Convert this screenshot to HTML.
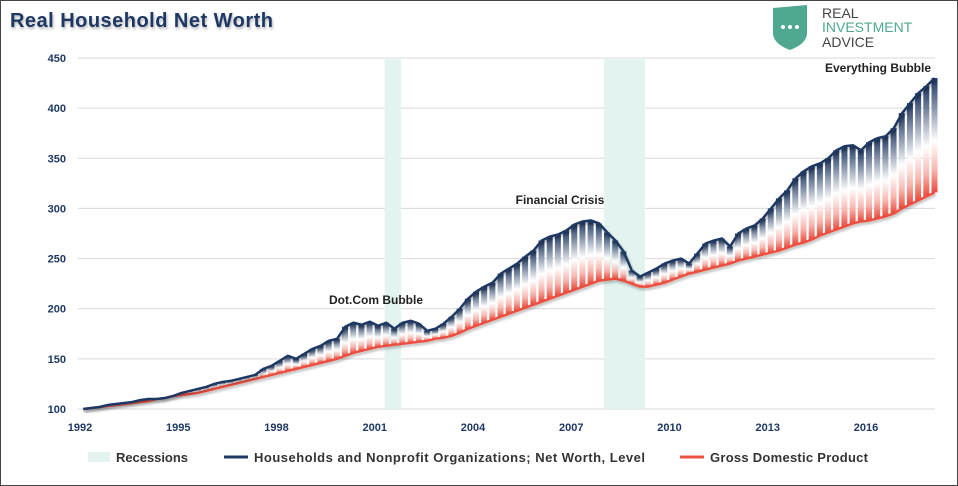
<!DOCTYPE html>
<html><head><meta charset="utf-8"><style>
body{margin:0;background:#fff;}
#wrap{position:relative;width:958px;height:486px;overflow:hidden;font-family:"Liberation Sans",sans-serif;}
</style></head><body>
<div id="wrap">
<svg id="svg" width="958" height="486" xmlns="http://www.w3.org/2000/svg">
<defs>
<linearGradient id="barg" x1="0" y1="0" x2="0" y2="1">
<stop offset="0" stop-color="#1d3660"/><stop offset="0.55" stop-color="#ffffff"/><stop offset="0.8" stop-color="#f7b7b0"/><stop offset="1" stop-color="#ea4a3c"/>
</linearGradient>
<filter id="sh" x="-5%" y="-5%" width="110%" height="130%"><feDropShadow dx="1" dy="2" stdDeviation="1.2" flood-color="#000" flood-opacity="0.3"/></filter>
</defs>
<rect x="0.5" y="0.5" width="957" height="485" fill="none" stroke="#444"/>
<text x="10" y="27" font-size="20" font-weight="bold" fill="#1f3864" filter="url(#sh)" textLength="263">Real Household Net Worth</text>
<g>
<path d="M773 8 L807 5 L807 34 Q806 44 790 50 Q774 44 773 34 Z" fill="#4fa88f"/>
<circle cx="783" cy="27" r="2" fill="#fff"/><circle cx="790" cy="27" r="2" fill="#fff"/><circle cx="797" cy="27" r="2" fill="#fff"/>
<text x="822" y="18" font-size="14" fill="#444">REAL</text>
<text x="822" y="32" font-size="14" fill="#4fa88f">INVESTMENT</text>
<text x="822" y="47" font-size="14" fill="#444">ADVICE</text>
</g>
<g id="grid"></g><g id="rec"></g><g id="bars"></g><g id="lines"></g><g id="axes"></g>
<text x="376" y="304" font-size="12" font-weight="bold" fill="#222" text-anchor="middle">Dot.Com Bubble</text>
<text x="560" y="204" font-size="12" font-weight="bold" fill="#222" text-anchor="middle">Financial Crisis</text>
<text x="878" y="72" font-size="12" font-weight="bold" fill="#222" text-anchor="middle">Everything Bubble</text>
<g>
<rect x="88" y="452" width="22" height="10" fill="#e3f3ef"/>
<text x="116" y="462" font-size="13" font-weight="bold" fill="#333" textLength="72">Recessions</text>
<line x1="224" y1="457" x2="248" y2="457" stroke="#1f3864" stroke-width="3"/>
<text x="254" y="462" font-size="13" font-weight="bold" fill="#333" textLength="391">Households and Nonprofit Organizations; Net Worth, Level</text>
<line x1="680" y1="457" x2="704" y2="457" stroke="#ec5040" stroke-width="3"/>
<text x="710" y="462" font-size="13" font-weight="bold" fill="#333" textLength="158">Gross Domestic Product</text>
</g>
</svg>
</div>
<script>
const netWorth=[100,101,102,104,105,106,107,109,110,110,111,113,116,118,120,122,125,127,128,130,132,134,140,143,148,153,150,155,160,163,168,170,182,186,184,187,183,186,180,186,188,185,178,180,185,192,200,210,217,222,226,235,240,245,252,258,268,272,274,278,284,287,288,285,276,268,257,238,232,236,240,245,248,250,245,255,265,268,270,262,275,280,283,290,300,310,318,330,337,342,345,350,358,362,363,358,366,370,372,380,395,405,415,422,430];
const gdp=[100,101,102,103,104,105,106,107,108,110,111,113,114,115,116,118,120,122,124,126,128,130,132,134,136,138,140,142,144,146,148,150,153,156,158,160,162,163,164,165,166,167,168,170,171,173,176,180,183,186,189,192,195,198,201,204,207,210,213,216,219,222,225,228,229,230,228,225,222,222,224,226,229,232,235,237,239,241,243,245,248,250,252,254,256,258,261,264,266,269,273,276,279,282,285,287,288,290,292,295,300,304,308,312,316];
const startYear=1992;
const recessions=[[2001.3,2001.8],[2008.0,2009.25]];
const yTicks=[100,150,200,250,300,350,400,450];
const xTicks=[1992,1995,1998,2001,2004,2007,2010,2013,2016];
const NS="http://www.w3.org/2000/svg";
const X=t=>80+(t-1992)*32.75;
const Y=v=>409-(v-100)*351/350;
function mk(tag,attrs,parent){const e=document.createElementNS(NS,tag);for(const k in attrs)e.setAttribute(k,attrs[k]);document.getElementById(parent).appendChild(e);return e;}
yTicks.forEach(v=>{
 const l=mk('line',{x1:78,x2:935,y1:Y(v),y2:Y(v),stroke:'#d9d9d9','stroke-width':1},'grid');
 
 
 const t=mk('text',{x:66,y:Y(v)+4,'font-size':11,'font-weight':'bold',fill:'#1f3864','text-anchor':'end'},'axes');
 t.textContent=v;
 
 
});
xTicks.forEach(y=>{
 const t=mk('text',{x:X(y),y:431,'font-size':11,'font-weight':'bold',fill:'#1f3864','text-anchor':'middle'},'axes');
 t.textContent=y;
 
 
});
recessions.forEach(r=>{
 const e=mk('rect',{x:X(r[0]),y:58,width:X(r[1])-X(r[0]),height:351,fill:'#e3f3ef'},'rec');
 
 
});
netWorth.forEach((v,i)=>{
 const t=startYear+i/4, g=gdp[i];
 const x=X(t), top=Y(v), bot=Y(g);
 if(bot-top<0.5) return;
 const b=mk('rect',{x:x,y:top,width:6,height:bot-top,fill:'url(#barg)'},'bars');
 
 
});
const ptsN=netWorth.map((v,i)=>X(startYear+i/4+0.1)+','+Y(v)).join(' ');
const ptsG=gdp.map((v,i)=>X(startYear+i/4+0.1)+','+Y(v)).join(' ');
const lg=mk('polyline',{points:ptsG,fill:'none',stroke:'#ec5040','stroke-width':2.5,filter:'url(#sh)'},'lines');


const ln=mk('polyline',{points:ptsN,fill:'none',stroke:'#1f3864','stroke-width':2.5,filter:'url(#sh)'},'lines');


</script>
</body></html>
